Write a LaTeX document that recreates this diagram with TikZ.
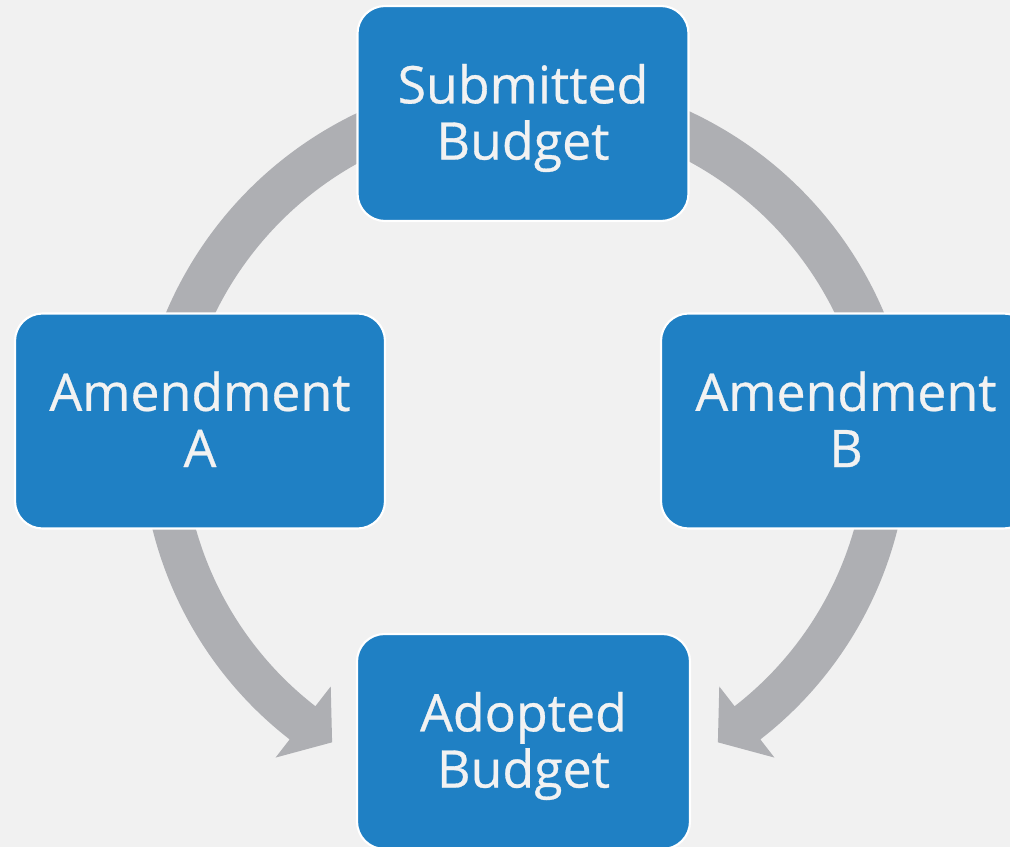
\documentclass[tikz,border=0pt]{standalone}
\usepackage{fontspec}
\setmainfont{Open Sans}[FakeBold=0.6]
\usetikzlibrary{calc}

\definecolor{bgcol}{HTML}{F1F1F1}
\definecolor{boxblue}{HTML}{1F80C4}
\definecolor{ringgray}{HTML}{AEAFB3}
\definecolor{txtwhite}{HTML}{F2F2F2}

\begin{document}
\begin{tikzpicture}
        [stage/.style={draw=white,line width=1.2pt,fill=boxblue,rounded corners=0.55cm,text=txtwhite,align=center,
            minimum height=4.3cm,inner sep=0,text depth=2pt,font=\fontsize{29.5}{32}\selectfont},
         ring/.style={ringgray,line width=0.9cm}]

        \useasboundingbox (0,0) rectangle (20.2,-16.94);
        \clip (0,0) rectangle (20.2,-16.94);
        \fill[bgcol] (0,0) rectangle (20.2,-16.94);

        \coordinate (cu) at (10.5,-9.3);
        \coordinate (cl) at (10.5,-8.72);

        % upper arcs
        \draw[ring] (cu) ++(110:7.35) arc[start angle=110,end angle=160,radius=7.35];
        \draw[ring] (cu) ++(70:7.35) arc[start angle=70,end angle=20,radius=7.35];

        % lower arcs with heads
        \fill[ringgray] (cl) ++(190:7.68) arc[start angle=190,end angle=232.2,radius=7.68]
          -- ($(cl)+(232.2:8.14)$) -- ($(cl)+(237.8:7.24)$) -- ($(cl)+(232.2:6.34)$)
          -- ($(cl)+(232.2:6.84)$) arc[start angle=232.2,end angle=190,radius=6.84] -- cycle;
        \fill[ringgray] (cl) ++(-10:7.68) arc[start angle=-10,end angle=-52.2,radius=7.68]
          -- ($(cl)+(-52.2:8.14)$) -- ($(cl)+(-57.8:7.24)$) -- ($(cl)+(-52.2:6.34)$)
          -- ($(cl)+(-52.2:6.84)$) arc[start angle=-52.2,end angle=-10,radius=6.84] -- cycle;

        \node[stage,minimum width=6.62cm] (sub) at (10.46,-2.27) {Submitted\\Budget};
        \node[stage,minimum width=7.4cm] (amA) at (4.0,-8.42) {Amendment\\A};
        \node[stage,minimum width=7.4cm] (amB) at (16.92,-8.42) {Amendment\\B};
        \node[stage,minimum width=6.66cm] (adp) at (10.47,-14.83) {Adopted\\Budget};

      \end{tikzpicture}
\end{document}
